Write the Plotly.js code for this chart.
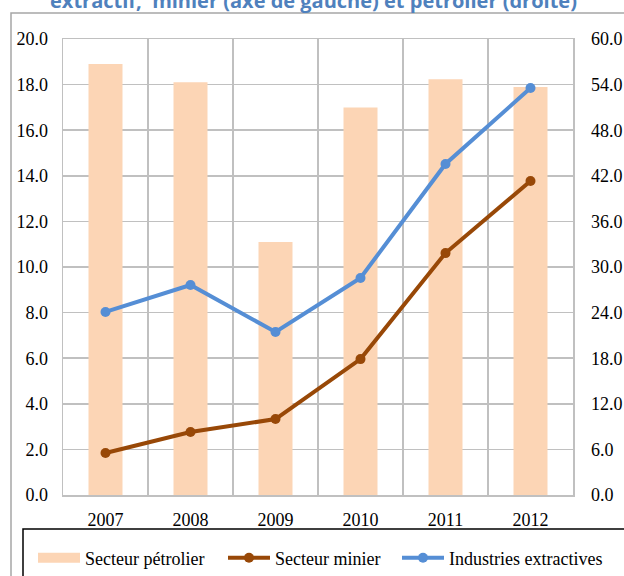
<!DOCTYPE html>
<html>
<head>
<meta charset="utf-8">
<script src="https://cdn.plot.ly/plotly-3.0.1.min.js"></script>
<style>html,body{margin:0;padding:0;background:#fff;}#chart{width:624px;height:576px;}</style>
</head>
<body>
<div id="chart"></div>
<script>
var years = ['2007', '2008', '2009', '2010', '2011', '2012'];
var petrolier = [56.7, 54.3, 33.3, 51.0, 54.7, 53.7];   // right axis
var minier = [1.84, 2.76, 3.33, 5.96, 10.61, 13.77];     // left axis
var extractives = [8.03, 9.21, 7.15, 9.52, 14.52, 17.85]; // left axis
var leftTicks = [0, 2, 4, 6, 8, 10, 12, 14, 16, 18, 20];
var rightTicks = [0, 6, 12, 18, 24, 30, 36, 42, 48, 54, 60];
var seriesNames = ['Secteur pétrolier', 'Secteur minier', 'Industries extractives'];
var titleText = 'extractif,  minier (axe de gauche) et pétrolier (droite)';

var W = 624, H = 576, L = 63, R = 51, T = 39, B = 81;
var pw = W - L - R, ph = H - T - B;
function px(x) { return (x - L) / pw; }
function py(y) { return 1 - (y - T) / ph; }

var font = {family: '"Liberation Serif", "Times New Roman", serif', size: 18, color: '#000'};
var grid = '#C0C0C0';

var traces = [
  {type: 'bar', name: seriesNames[0], x: years, y: petrolier, xaxis: 'x', yaxis: 'y',
   marker: {color: '#FCD5B5'}, showlegend: false, hoverinfo: 'x+y'},
  {type: 'scatter', mode: 'lines', name: seriesNames[0], x: [years[0]], y: [null], legend: 'legend',
   xaxis: 'x', yaxis: 'y', line: {color: '#FCD5B5', width: 10}, showlegend: true, hoverinfo: 'skip'},
  {type: 'scatter', mode: 'lines+markers', name: seriesNames[1], x: years, y: minier, legend: 'legend2',
   xaxis: 'x', yaxis: 'y2', line: {color: '#984807', width: 4}, marker: {color: '#984807', size: 10}},
  {type: 'scatter', mode: 'lines+markers', name: seriesNames[2], x: years, y: extractives, legend: 'legend3',
   xaxis: 'x', yaxis: 'y2', line: {color: '#558ED5', width: 4}, marker: {color: '#558ED5', size: 10}}
];

function leg(xpx) {
  return {orientation: 'h', x: px(xpx), xanchor: 'left', y: py(558), yanchor: 'middle',
          font: font, bgcolor: 'rgba(0,0,0,0)', borderwidth: 0, itemwidth: 42};
}

var layout = {
  width: W, height: H,
  margin: {l: L, r: R, t: T, b: B, pad: 0, autoexpand: false},
  paper_bgcolor: '#fff', plot_bgcolor: '#fff',
  font: font,
  bargap: 0.6,
  xaxis: {type: 'category', tickson: 'boundaries', showgrid: true, gridcolor: grid, gridwidth: 1.5,
          showline: true, linecolor: grid, linewidth: 1.5, mirror: true, ticks: '',
          ticklabelstandoff: 8, tickfont: font, fixedrange: true},
  yaxis: {side: 'right', range: [0, 60], tickvals: rightTicks, ticktext: rightTicks.map(function(v){return v.toFixed(1);}),
          showgrid: true, gridcolor: grid, gridwidth: 1.5, zeroline: false,
          showline: true, linecolor: grid, linewidth: 1.5, mirror: true, ticks: '',
          ticklabelstandoff: 13, tickfont: font, fixedrange: true},
  yaxis2: {side: 'left', overlaying: 'y', range: [0, 20], tickvals: leftTicks, ticktext: leftTicks.map(function(v){return v.toFixed(1);}),
           showgrid: false, zeroline: false, showline: false, ticks: '',
           ticklabelstandoff: 14, tickfont: font, fixedrange: true},
  showlegend: true,
  legend: leg(33),
  legend2: leg(223),
  legend3: leg(397),
  shapes: [
    {type: 'rect', xref: 'paper', yref: 'paper', x0: px(11), x1: px(660), y0: py(13), y1: py(640),
     line: {color: '#A6A6A6', width: 1.5}, fillcolor: 'rgba(0,0,0,0)', layer: 'below'},
    {type: 'rect', xref: 'paper', yref: 'paper', x0: px(23), x1: px(660), y0: py(529), y1: py(640),
     line: {color: '#000', width: 1.5}, fillcolor: 'rgba(0,0,0,0)'}
  ],
  annotations: [
    {text: '<b>' + titleText + '</b>', xref: 'paper', yref: 'paper', x: px(313), y: py(0.5),
     xanchor: 'center', yanchor: 'middle', showarrow: false,
     font: {family: '"Open Sans", sans-serif', size: 20, color: '#4F81BD'}}
  ]
};

Plotly.newPlot('chart', traces, layout, {displayModeBar: false, staticPlot: true});
</script>
</body>
</html>
